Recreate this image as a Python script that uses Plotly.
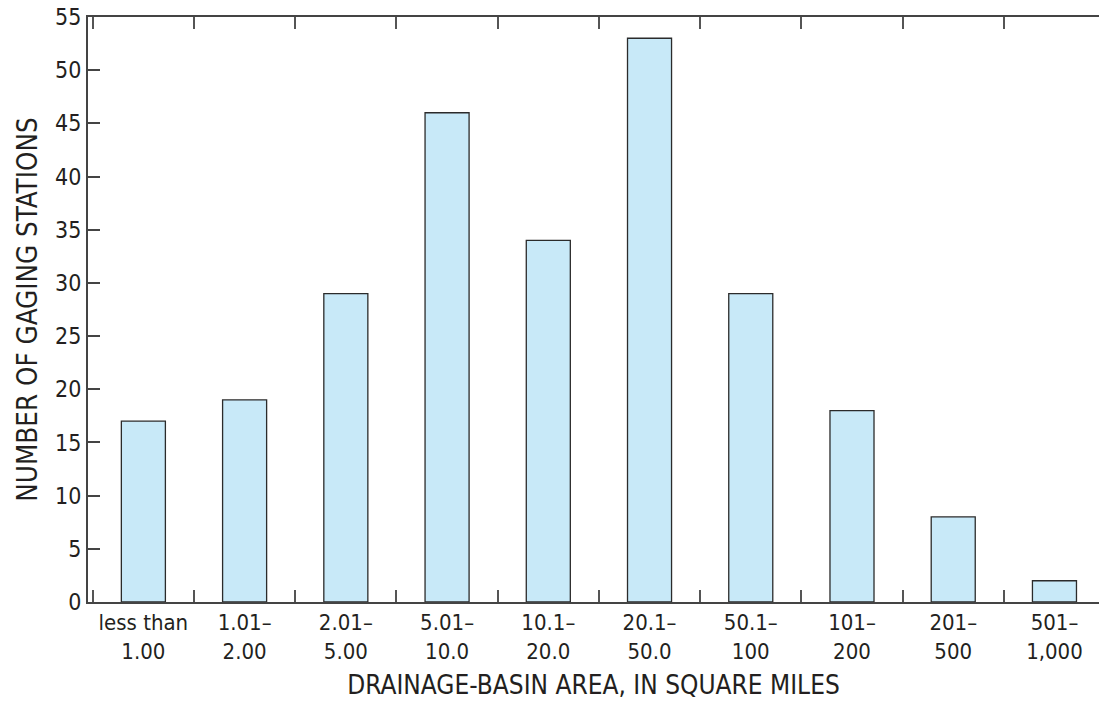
import plotly.graph_objects as go

categories = ["less than<br>1.00", "1.01–<br>2.00", "2.01–<br>5.00", "5.01–<br>10.0",
              "10.1–<br>20.0", "20.1–<br>50.0", "50.1–<br>100", "101–<br>200",
              "201–<br>500", "501–<br>1,000"]
counts = [17, 19, 29, 46, 34, 53, 29, 18, 8, 2]
y_ticks = list(range(0, 56, 5))

FONT = "DejaVu Sans Condensed, Liberation Sans Narrow, Roboto, sans-serif"

fig = go.Figure(go.Bar(
    x=categories, y=counts, width=0.435,
    marker=dict(color="#C8E9F8", line=dict(color="#2b2b2b", width=1.3)),
))

fig.update_layout(
    width=1099, height=710,
    margin=dict(l=88, r=0, t=17, b=108),
    paper_bgcolor="white", plot_bgcolor="white",
    showlegend=False,
    font=dict(family=FONT, size=23, color="#231f20"),
    bargap=0.5,
)
fig.update_xaxes(
    type="category", range=[-0.547, 9.44], automargin=False,
    tickson="boundaries", ticks="inside", ticklen=12, tickwidth=1.5, tickcolor="#555",
    showline=True, linecolor="#444", linewidth=2, mirror="ticks",
    showgrid=False, zeroline=False, tickangle=0,
    tickfont=dict(size=22),
    title=dict(text="DRAINAGE-BASIN AREA, IN SQUARE MILES", font=dict(size=26), standoff=13),
)
fig.update_yaxes(
    range=[0, 55], tickvals=y_ticks, ticks="inside", ticklen=12, tickwidth=1.5, tickcolor="#444",
    showline=True, linecolor="#444", linewidth=2, automargin=False,
    showgrid=False, zeroline=False,
    tickfont=dict(size=23),
    title=dict(text="NUMBER OF GAGING STATIONS", font=dict(size=27.5), standoff=9),
)

fig.write_html("out.html", config={"displayModeBar": False},
               post_script="document.body.style.margin='0';document.body.style.overflow='hidden';")
